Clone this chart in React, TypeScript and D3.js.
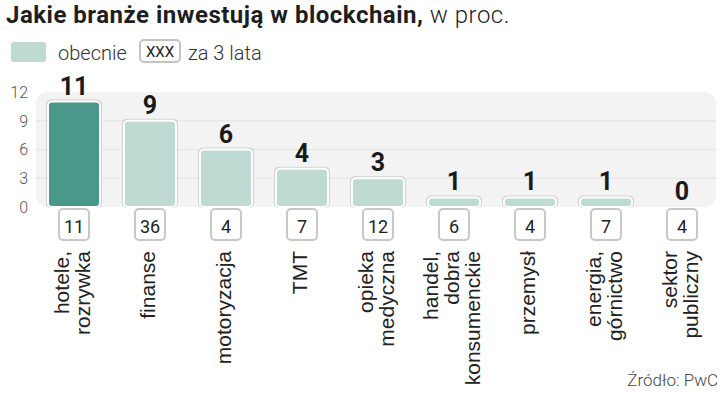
import * as d3 from "d3";

const categories: string[][] = [
  ["hotele,", "rozrywka"],
  ["finanse"],
  ["motoryzacja"],
  ["TMT"],
  ["opieka", "medyczna"],
  ["handel,", "dobra", "konsumenckie"],
  ["przemysł"],
  ["energia,", "górnictwo"],
  ["sektor", "publiczny"],
];
const current = [11, 9, 6, 4, 3, 1, 1, 1, 0];
const in3Years = [11, 36, 4, 7, 12, 6, 4, 7, 4];
const yTicks = [0, 3, 6, 9, 12];

const width = 720;
const height = 393;
const dinFont = "Roboto, 'DejaVu Sans', sans-serif";
const armFont = "'Liberation Sans', Arial, sans-serif";

export default function App() {
  const x = d3
    .scalePoint<number>()
    .domain(d3.range(categories.length))
    .range([36, 720])
    .padding(0.5);
  const y = d3.scaleLinear().domain([0, 12]).range([207, 92]);
  const barW = 52;

  return (
    <svg
      width={width}
      height={height}
      style={{ position: "absolute", left: 0, top: 0, background: "#fff" }}
    >
      {/* title */}
      <text x={6} y={23} fontFamily={dinFont} fontSize={24} fill="#1e1e1e" letterSpacing={0.5}>
        <tspan fontWeight={700}>Jakie branże inwestują w blockchain,</tspan>
        <tspan fontWeight={300}> w proc.</tspan>
      </text>

      {/* legend */}
      <rect x={9} y={40} width={39} height={24} rx={5} fill="#d6d6d6" />
      <rect x={10} y={41} width={37} height={22} rx={4} fill="#bedad2" stroke="#fff" strokeWidth={2} />
      <text x={58} y={60} fontFamily={dinFont} fontWeight={300} fontSize={20} fill="#333">
        obecnie
      </text>
      <rect x={140} y={40} width={40} height={22} rx={4} fill="#fff" stroke="#c4c4c4" strokeWidth={2} />
      <text x={160} y={57} textAnchor="middle" fontFamily={dinFont} fontSize={15} fill="#222">
        XXX
      </text>
      <text x={188} y={60} fontFamily={dinFont} fontWeight={300} fontSize={20} fill="#333">
        za 3 lata
      </text>

      {/* plot panel */}
      <rect x={36} y={y(12)} width={680} height={y(0) - y(12)} rx={12} fill="#f3f3f3" />
      {yTicks
        .filter((t) => t > 0 && t < 12)
        .map((t) => (
          <line key={t} x1={36} x2={716} y1={y(t)} y2={y(t)} stroke="#e3e3e3" strokeWidth={1} />
        ))}
      {yTicks.map((t) => (
        <text
          key={t}
          x={28}
          y={y(t)}
          dy="0.36em"
          textAnchor="end"
          fontFamily={dinFont}
          fontWeight={300}
          fontSize={16}
          fill="#555"
        >
          {t}
        </text>
      ))}

      {/* bars */}
      {current.map((v, i) => {
        const cx = x(i)!;
        const top = y(v);
        const h = y(0) - top;
        return (
          <g key={i}>
            {v > 0 && (
              <>
                <rect
                  x={cx - barW / 2 - 2}
                  y={top - 2}
                  width={barW + 4}
                  height={h + 3}
                  rx={5}
                  fill="#d2d2d2"
                />
                <rect
                  x={cx - barW / 2}
                  y={top}
                  width={barW}
                  height={h}
                  rx={4}
                  fill={i === 0 ? "#4a988a" : "#bedad2"}
                  stroke="#fff"
                  strokeWidth={2}
                />
              </>
            )}
            <text
              x={cx}
              y={top - 7}
              textAnchor="middle"
              fontFamily={dinFont}
              fontWeight={700}
              fontSize={25}
              fill="#1a1a1a"
            >
              {v}
            </text>
            <rect x={cx - 15} y={209} width={30} height={31} rx={4} fill="#fff" stroke="#c8c8c8" strokeWidth={2} />
            <text x={cx} y={233} textAnchor="middle" fontFamily={dinFont} fontSize={18} fill="#222">
              {in3Years[i]}
            </text>
            <text
              transform={`translate(${cx},251) rotate(-90)`}
              textAnchor="end"
              fontFamily={armFont}
              fontSize={21}
              fill="#222"
            >
              {categories[i].map((line, j) => (
                <tspan key={j} x={0} y={5 + (j - (categories[i].length - 1) / 2) * 21}>
                  {line}
                </tspan>
              ))}
            </text>
          </g>
        );
      })}

      {/* source */}
      <text x={718} y={386} textAnchor="end" fontFamily={dinFont} fontWeight={300} fontSize={17} fill="#444">
        Źródło: PwC
      </text>
    </svg>
  );
}
